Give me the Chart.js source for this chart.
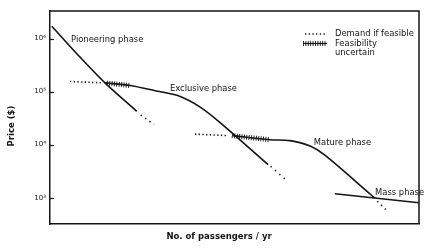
<!DOCTYPE html>
<html>
<head>
<meta charset="utf-8">
<script src="https://cdn.jsdelivr.net/npm/chart.js@4.4.1/dist/chart.umd.min.js"></script>
<style>
html, body { margin: 0; padding: 0; background: #fff; }
#wrap { width: 430px; height: 249px; position: relative; }
</style>
</head>
<body>
<div id="wrap"><canvas id="chart"></canvas></div>
<script>
// ---- data (x: arbitrary passengers/yr units 0-100, y: price $) ----
const yTickValues = [1e3, 1e4, 1e5, 1e6];
const yTickLabels = ["10³", "10⁴", "10⁵", "10⁶"];

const pioneerX = [0.5, 7.7, 14.9, 23.5];
const pioneerY = [1.7e6, 4.8e5, 1.46e5, 4.25e4];
const pioneerTailX = [24.6, 28.2];
const pioneerTailY = [3.6e4, 2.4e4];

const exclusiveX = [14.9, 21.7, 28.5, 34.6, 40.7, 46.1, 59.1];
const exclusiveY = [1.46e5, 1.30e5, 1.04e5, 8.4e4, 5.1e4, 2.6e4, 4.2e3];
const exclusiveTailX = [59.8, 64.5];
const exclusiveTailY = [3.9e3, 2.0e3];

const matureX = [49.6, 59.6, 65.0, 70.5, 74.5, 87.3, 88.1];
const matureY = [1.48e4, 1.24e4, 1.19e4, 9.4e3, 6.34e3, 1.09e3, 986];
const matureTailX = [88.7, 91.0];
const matureTailY = [860, 600];

const massX = [77.2, 100];
const massY = [1.19e3, 805];

const demand1X = [5.4, 14.4];
const demand1Y = [1.55e5, 1.46e5];
const hatch1X = [15.4, 21.7];
const hatch1Y = [1.45e5, 1.30e5];

const demand2X = [39.3, 48.2];
const demand2Y = [1.58e4, 1.48e4];
const hatch2X = [49.3, 59.6];
const hatch2Y = [1.48e4, 1.24e4];

const phaseNames = ["Pioneering phase", "Exclusive phase", "Mature phase", "Mass phase"];
const phaseX = [5.7, 32.5, 71.5, 88.1];
const phaseY = [9.6e5, 1.14e5, 1.09e4, 1.24e3];

const legendNames = ["Demand if feasible", "Feasibility", "uncertain"];

function pts(xs, ys) { return xs.map((x, i) => ({ x: x, y: ys[i] })); }

const FONT = "'DejaVu Sans', sans-serif";
const INK = "#141414";

function solid(xs, ys) {
    return { data: pts(xs, ys), borderColor: INK, borderWidth: 1.6, pointRadius: 0,
             showLine: true, tension: 0.3, fill: false };
}
function dotted(xs, ys, gap) {
    return { data: pts(xs, ys), borderColor: INK, borderWidth: 1.6, pointRadius: 0,
             showLine: true, borderDash: [1.3, gap], borderCapStyle: "butt", fill: false };
}
function hatched(xs, ys) {
    return { data: pts(xs, ys), borderColor: INK, borderWidth: 5, pointRadius: 0,
             showLine: true, borderDash: [0.9, 1.5], borderCapStyle: "butt", fill: false };
}

// frame, inner ticks, titles, phase labels and legend
const decorPlugin = {
    id: "decor",
    afterDraw(chart) {
        const ctx = chart.ctx;
        const a = chart.chartArea;
        const xs = chart.scales.x, ys = chart.scales.y;
        ctx.save();
        ctx.strokeStyle = INK;
        ctx.lineWidth = 1.5;
        ctx.beginPath();
        ctx.moveTo(a.left, a.top); ctx.lineTo(a.right, a.top); ctx.lineTo(a.right, a.bottom);
        ctx.stroke();

        // ticks inside the y axis
        ctx.lineWidth = 1.2;
        yTickValues.forEach(v => {
            const py = Math.round(ys.getPixelForValue(v)) + 0.5;
            ctx.beginPath(); ctx.moveTo(a.left, py); ctx.lineTo(a.left + 4, py); ctx.stroke();
        });

        ctx.fillStyle = INK;
        ctx.textBaseline = "middle";
        ctx.textAlign = "left";
        ctx.font = "8.4px " + FONT;
        phaseNames.forEach((t, i) => {
            ctx.fillText(t, xs.getPixelForValue(phaseX[i]), ys.getPixelForValue(phaseY[i]));
        });

        // legend
        const lx = a.right - 114, ly = a.top + 23;
        ctx.fillText(legendNames[0], lx + 30, ly);
        ctx.fillText(legendNames[1], lx + 30, ly + 9.5);
        ctx.fillText(legendNames[2], lx + 30, ly + 19);
        ctx.lineCap = "butt";
        ctx.lineWidth = 1.6;
        ctx.setLineDash([1.3, 2.4]);
        ctx.beginPath(); ctx.moveTo(lx, ly); ctx.lineTo(lx + 22, ly); ctx.stroke();
        ctx.setLineDash([]);
        ctx.lineWidth = 1.2;
        ctx.beginPath(); ctx.moveTo(lx - 2, ly + 9.5); ctx.lineTo(lx + 22, ly + 9.5); ctx.stroke();
        ctx.lineWidth = 5;
        ctx.setLineDash([0.9, 1.5]);
        ctx.beginPath(); ctx.moveTo(lx - 2, ly + 9.5); ctx.lineTo(lx + 22, ly + 9.5); ctx.stroke();
        ctx.setLineDash([]);

        // axis titles
        ctx.font = "bold 8.5px " + FONT;
        ctx.textAlign = "center";
        ctx.fillText("No. of passengers / yr", 219, 237);
        ctx.translate(12, 126);
        ctx.rotate(-Math.PI / 2);
        ctx.fillText("Price ($)", 0, 0);
        ctx.restore();
    }
};

new Chart(document.getElementById("chart"), {
    type: "scatter",
    data: {
        datasets: [
            solid(pioneerX, pioneerY),
            dotted(pioneerTailX, pioneerTailY, 4),
            solid(exclusiveX, exclusiveY),
            dotted(exclusiveTailX, exclusiveTailY, 4.5),
            solid(matureX, matureY),
            dotted(matureTailX, matureTailY, 4),
            solid(massX, massY),
            dotted(demand1X, demand1Y, 2.4),
            hatched(hatch1X, hatch1Y),
            dotted(demand2X, demand2Y, 2.4),
            hatched(hatch2X, hatch2Y)
        ]
    },
    options: {
        responsive: true,
        maintainAspectRatio: false,
        animation: false,
        devicePixelRatio: 1,
        layout: { padding: { top: 11, right: 11, left: 0, bottom: 0 } },
        plugins: { legend: { display: false }, tooltip: { enabled: false } },
        scales: {
            x: {
                type: "linear", min: 0, max: 100,
                ticks: { display: false },
                grid: { display: false, drawTicks: false },
                border: { display: true, color: INK, width: 1.5 },
                afterFit(s) { s.height = 25; }
            },
            y: {
                type: "logarithmic", min: 320, max: 3.3e6,
                afterBuildTicks(s) { s.ticks = yTickValues.map(v => ({ value: v })); },
                ticks: {
                    autoSkip: false, padding: 4, color: INK,
                    font: { family: FONT, size: 7 },
                    callback: v => yTickLabels[yTickValues.indexOf(v)]
                },
                grid: { display: false, drawTicks: false },
                border: { display: true, color: INK, width: 1.5 },
                afterFit(s) { s.width = 50; }
            }
        }
    },
    plugins: [decorPlugin]
});
</script>
</body>
</html>
